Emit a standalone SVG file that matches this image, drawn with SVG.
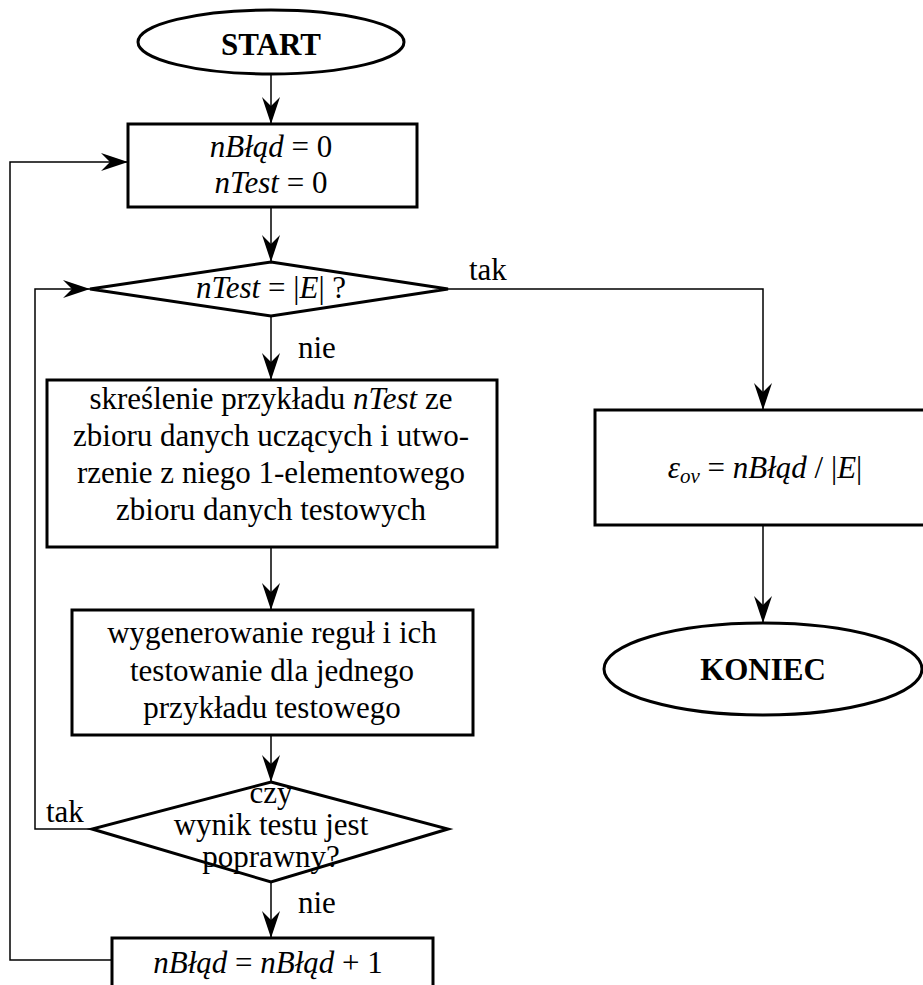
<svg xmlns="http://www.w3.org/2000/svg" width="923" height="985" viewBox="0 0 923 985">
  <style>
    .node { fill: #fff; stroke: #000; stroke-width: 3; }
    .edge { fill: none; stroke: #000; stroke-width: 1.5; }
    text { font-family: "Liberation Serif", "Times New Roman", serif; font-size: 31px; fill: #000; }
    .c { text-anchor: middle; }
    .b { font-weight: bold; }
    .i { font-style: italic; }
  </style>
  <defs>
    <marker id="arr" markerUnits="userSpaceOnUse" markerWidth="30" markerHeight="22" viewBox="-28 -11 30 22" refX="0" refY="0" orient="auto">
      <path d="M0,0 L-27,-9 L-18,0 L-27,9 Z" fill="#000"/>
    </marker>
  </defs>

  <g id="connectors">
    <path class="edge" d="M271,74 V124" marker-end="url(#arr)"/>
    <path class="edge" d="M271,207 V262" marker-end="url(#arr)"/>
    <path class="edge" d="M271,316 V380" marker-end="url(#arr)"/>
    <path class="edge" d="M271,547 V610" marker-end="url(#arr)"/>
    <path class="edge" d="M271,735 V782" marker-end="url(#arr)"/>
    <path class="edge" d="M271,882 V938" marker-end="url(#arr)"/>
    <path class="edge" d="M448,289 H763 V410" marker-end="url(#arr)"/>
    <path class="edge" d="M763,525 V623" marker-end="url(#arr)"/>
    <path class="edge" d="M92,829 H35 V289 H90" marker-end="url(#arr)"/>
    <path class="edge" d="M112,960 H10 V162 H128" marker-end="url(#arr)"/>
    <text x="469" y="280">tak</text>
    <text x="298" y="358">nie</text>
    <text x="46" y="822">tak</text>
    <text x="298" y="913">nie</text>
  </g>

  <g id="start">
    <ellipse class="node" cx="271" cy="42" rx="133" ry="32"/>
    <text class="c b" x="271" y="55">START</text>
  </g>

  <g id="init">
    <rect class="node" x="128" y="124" width="289" height="83"/>
    <text class="c" x="271" y="157"><tspan class="i">nBłąd</tspan> = 0</text>
    <text class="c" x="271" y="193"><tspan class="i">nTest</tspan> = 0</text>
  </g>

  <g id="check-end">
    <polygon class="node" points="271,262 448,289 271,316 90,289"/>
    <text class="c" x="271" y="298"><tspan class="i">nTest</tspan> = |<tspan class="i">E</tspan>| ?</text>
  </g>

  <g id="split">
    <rect class="node" x="47" y="380" width="450" height="167"/>
    <text class="c" x="271" y="409">skreślenie przykładu <tspan class="i">nTest</tspan> ze</text>
    <text class="c" x="271" y="446">zbioru danych uczących i utwo-</text>
    <text class="c" x="271" y="483">rzenie z niego 1-elementowego</text>
    <text class="c" x="271" y="520">zbioru danych testowych</text>
  </g>

  <g id="generate">
    <rect class="node" x="72" y="610" width="401" height="125"/>
    <text class="c" x="272" y="643">wygenerowanie reguł i ich</text>
    <text class="c" x="272" y="681">testowanie dla jednego</text>
    <text class="c" x="272" y="718">przykładu testowego</text>
  </g>

  <g id="check-result">
    <polygon class="node" points="271,782 448,829 271,882 92,829"/>
    <text class="c" x="271" y="803">czy</text>
    <text class="c" x="271" y="835">wynik testu jest</text>
    <text class="c" x="271" y="867">poprawny?</text>
  </g>

  <g id="increment">
    <rect class="node" x="112" y="938" width="321" height="60"/>
    <text class="c" x="268" y="973"><tspan class="i">nBłąd</tspan> = <tspan class="i">nBłąd</tspan> + 1</text>
  </g>

  <g id="error-rate">
    <rect class="node" x="595" y="410" width="340" height="115"/>
    <text class="c" x="765" y="478"><tspan class="i">ε</tspan><tspan class="i" font-size="21" dy="5">ov</tspan><tspan dy="-5"> = </tspan><tspan class="i">nBłąd</tspan> / |<tspan class="i">E</tspan>|</text>
  </g>

  <g id="end">
    <ellipse class="node" cx="763" cy="669" rx="159" ry="46"/>
    <text class="c b" x="763" y="680">KONIEC</text>
  </g>
</svg>
